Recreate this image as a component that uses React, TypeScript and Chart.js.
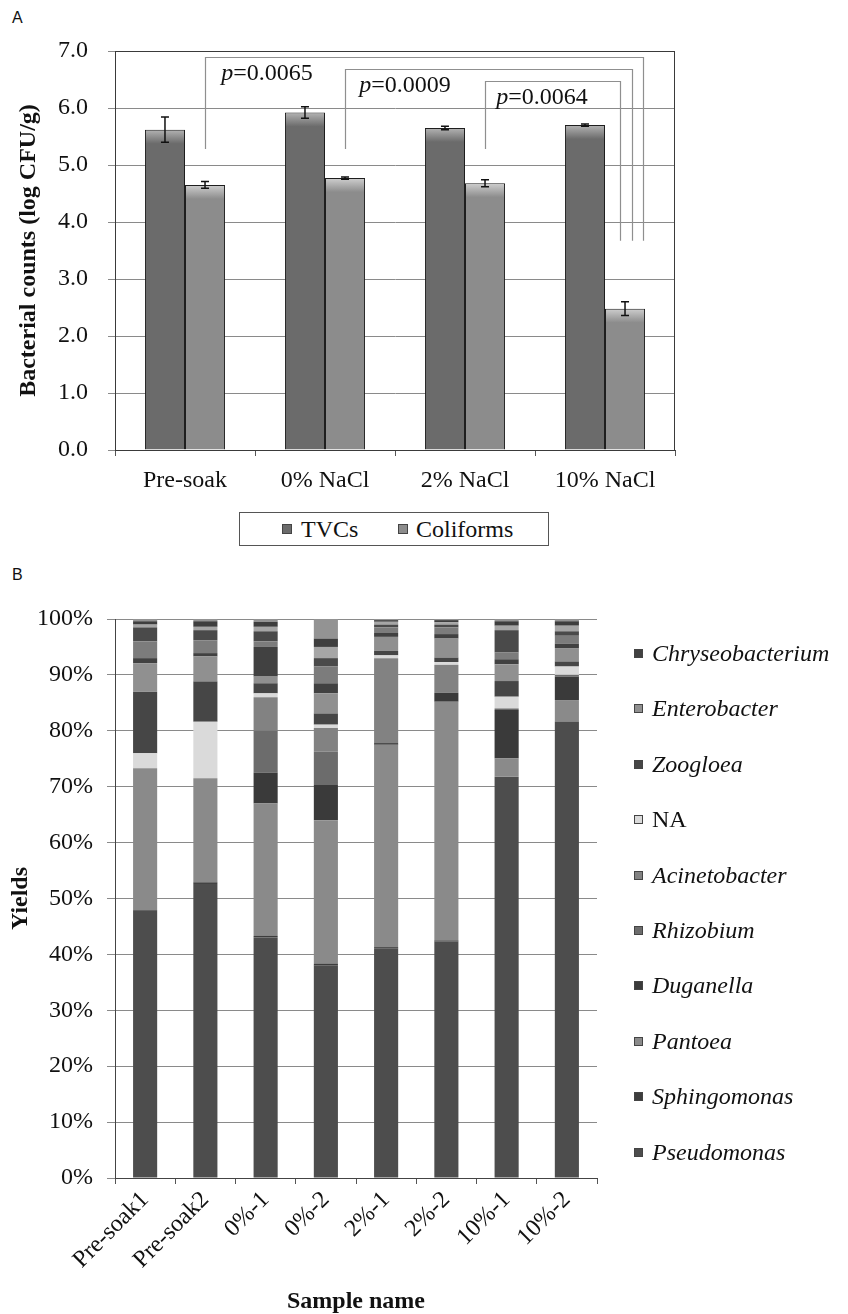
import React, { useEffect, useRef } from 'react';
import { Chart, registerables } from 'chart.js';

Chart.register(...registerables);

const SERIF = "'Liberation Serif', 'Times New Roman', Times, serif";
const SANS = "'Liberation Sans', Arial, Helvetica, sans-serif";

// ---------------- Panel A data ----------------
const treatments = ['Pre-soak', '0% NaCl', '2% NaCl', '10% NaCl'];
const tvcMeans = [5.62, 5.92, 5.65, 5.7];
const tvcErrors = [0.22, 0.1, 0.03, 0.02];
const coliformMeans = [4.65, 4.77, 4.68, 2.48];
const coliformErrors = [0.06, 0.02, 0.06, 0.12];
const countTickMax = 7;

// significance brackets (category units on x, log CFU/g on y)
const pValues = ['0.0065', '0.0009', '0.0064'];
const pBracketStart = [0.143, 1.143, 2.143];
const pBracketEnd = [3.271, 3.193, 3.107];
const pBracketTop = [6.9, 6.69, 6.48];
const pBracketStartBottom = 5.28;
const pBracketEndBottom = 3.67;
const pLabelX = [0.586, 1.571, 2.55];
const pLabelY = [6.6, 6.39, 6.18];

// ---------------- Panel B data ----------------
const sampleNames = ['Pre-soak1', 'Pre-soak2', '0%-1', '0%-2', '2%-1', '2%-2', '10%-1', '10%-2'];
const pseudomonas = [47.6, 52.6, 43.0, 38.0, 41.1, 42.3, 71.8, 81.6];
const sphingomonas = [0.3, 0.3, 0.3, 0.3, 0.2, 0.2, 0, 0];
const pantoea = [25.4, 18.6, 23.7, 25.7, 36.2, 42.7, 3.3, 3.9];
const duganella = [0, 0, 5.5, 6.3, 0.3, 1.6, 8.6, 4.2];
const rhizobium = [0, 0, 7.5, 6.0, 0, 0, 0.3, 0.3];
const acinetobacter = [0, 0, 6.0, 4.2, 15.2, 5.0, 0, 0];
const unassigned = [2.7, 10.1, 0.7, 0.6, 0.5, 0.5, 2.1, 1.5];
const zoogloea = [11.0, 7.2, 1.8, 2.0, 0.8, 0.8, 2.8, 0.9];
const enterobacter = [5.1, 4.5, 1.2, 3.6, 2.5, 3.4, 3.0, 2.4];
const chryseobacterium = [0.9, 0.6, 5.3, 1.8, 0.7, 0.8, 0.9, 0.8];
const minorGenusA = [3.0, 2.3, 1.0, 3.0, 1.0, 1.2, 1.2, 1.4];
const minorGenusB = [2.5, 1.8, 1.8, 1.5, 0.5, 0.5, 4.0, 0.8];
const minorGenusC = [0.5, 0.6, 0.8, 2.0, 0.5, 0.4, 0.8, 1.0];
const minorGenusD = [0.6, 1.0, 0.9, 1.5, 0.3, 0.4, 0.8, 0.8];
const minorGenusE = [0.4, 0.4, 0.5, 3.5, 0.2, 0.2, 0.4, 0.4];

const genusSeries = [
  { name: 'Pseudomonas', italic: true, data: pseudomonas, color: '#4d4d4d', legend: true },
  { name: 'Sphingomonas', italic: true, data: sphingomonas, color: '#3d3d3d', legend: true },
  { name: 'Pantoea', italic: true, data: pantoea, color: '#8a8a8a', legend: true },
  { name: 'Duganella', italic: true, data: duganella, color: '#3a3a3a', legend: true },
  { name: 'Rhizobium', italic: true, data: rhizobium, color: '#6c6c6c', legend: true },
  { name: 'Acinetobacter', italic: true, data: acinetobacter, color: '#828282', legend: true },
  { name: 'NA', italic: false, data: unassigned, color: '#dadada', legend: true },
  { name: 'Zoogloea', italic: true, data: zoogloea, color: '#464646', legend: true },
  { name: 'Enterobacter', italic: true, data: enterobacter, color: '#909090', legend: true },
  { name: 'Chryseobacterium', italic: true, data: chryseobacterium, color: '#414141', legend: true },
  { name: 'Other 1', italic: false, data: minorGenusA, color: '#7c7c7c', legend: false },
  { name: 'Other 2', italic: false, data: minorGenusB, color: '#4a4a4a', legend: false },
  { name: 'Other 3', italic: false, data: minorGenusC, color: '#a6a6a6', legend: false },
  { name: 'Other 4', italic: false, data: minorGenusD, color: '#3e3e3e', legend: false },
  { name: 'Other 5', italic: false, data: minorGenusE, color: '#939393', legend: false },
];

const TVC_COLOR = '#6b6b6b';
const COLI_COLOR = '#8c8c8c';

function barFill(base: string, light: string) {
  return (c: any) => {
    const chart = c.chart;
    const ys = chart.scales && chart.scales.y;
    if (!ys || !chart.chartArea || typeof c.raw !== 'number') return base;
    const top = ys.getPixelForValue(c.raw);
    const g = chart.ctx.createLinearGradient(0, top, 0, top + 14);
    g.addColorStop(0, light);
    g.addColorStop(1, base);
    return g;
  };
}

const panelAPlugin = {
  id: 'panelAExtras',
  afterDatasetsDraw(chart: any) {
    const { ctx, scales } = chart;
    const x = scales.x;
    const y = scales.y;
    ctx.save();
    // error bars
    chart.data.datasets.forEach((ds: any, di: number) => {
      const meta = chart.getDatasetMeta(di);
      meta.data.forEach((el: any, i: number) => {
        const v = ds.data[i];
        const e = ds.errors[i];
        const yt = y.getPixelForValue(v + e);
        const yb = y.getPixelForValue(v - e);
        ctx.strokeStyle = '#111';
        ctx.lineWidth = 1.5;
        ctx.beginPath();
        ctx.moveTo(el.x, yt);
        ctx.lineTo(el.x, yb);
        ctx.moveTo(el.x - 4, yt);
        ctx.lineTo(el.x + 4, yt);
        ctx.moveTo(el.x - 4, yb);
        ctx.lineTo(el.x + 4, yb);
        ctx.stroke();
      });
    });
    // brackets
    ctx.strokeStyle = '#8f8f8f';
    ctx.lineWidth = 1.2;
    for (let k = 0; k < pValues.length; k++) {
      const x1 = Math.round(x.getPixelForValue(pBracketStart[k])) + 0.5;
      const x2 = Math.round(x.getPixelForValue(pBracketEnd[k])) + 0.5;
      const yTop = Math.round(y.getPixelForValue(pBracketTop[k])) + 0.5;
      ctx.beginPath();
      ctx.moveTo(x1, y.getPixelForValue(pBracketStartBottom));
      ctx.lineTo(x1, yTop);
      ctx.lineTo(x2, yTop);
      ctx.lineTo(x2, y.getPixelForValue(pBracketEndBottom));
      ctx.stroke();
    }
    // p labels
    ctx.fillStyle = '#111';
    ctx.textBaseline = 'middle';
    ctx.textAlign = 'left';
    for (let k = 0; k < pValues.length; k++) {
      const cx = x.getPixelForValue(pLabelX[k]);
      const cy = y.getPixelForValue(pLabelY[k]);
      ctx.font = `italic 24px ${SERIF}`;
      const wp = ctx.measureText('p').width;
      ctx.font = `24px ${SERIF}`;
      const rest = '=' + pValues[k];
      const wr = ctx.measureText(rest).width;
      const sx = cx - (wp + wr) / 2;
      ctx.font = `italic 24px ${SERIF}`;
      ctx.fillText('p', sx, cy);
      ctx.font = `24px ${SERIF}`;
      ctx.fillText(rest, sx + wp, cy);
    }
    ctx.restore();
  },
  afterDraw(chart: any) {
    const { ctx, chartArea } = chart;
    ctx.save();
    ctx.strokeStyle = '#3a3a3a';
    ctx.lineWidth = 1;
    ctx.strokeRect(
      Math.round(chartArea.left) + 0.5,
      Math.round(chartArea.top) + 0.5,
      Math.round(chartArea.right - chartArea.left) - 1,
      Math.round(chartArea.bottom - chartArea.top)
    );
    ctx.restore();
  },
};

function PanelA() {
  const ref = useRef<HTMLCanvasElement>(null);
  useEffect(() => {
    if (!ref.current) return;
    const chart = new Chart(ref.current, {
      type: 'bar',
      data: {
        labels: treatments,
        datasets: [
          {
            label: 'TVCs',
            data: tvcMeans,
            errors: tvcErrors,
            backgroundColor: barFill(TVC_COLOR, '#b4b4b4'),
            borderColor: '#1e1e1e',
            borderWidth: 1,
          } as any,
          {
            label: 'Coliforms',
            data: coliformMeans,
            errors: coliformErrors,
            backgroundColor: barFill(COLI_COLOR, '#cfcfcf'),
            borderColor: '#1e1e1e',
            borderWidth: 1,
          } as any,
        ],
      },
      options: {
        responsive: false,
        animation: false,
        devicePixelRatio: 1,
        layout: { padding: { left: 0, right: 173, top: 51, bottom: 0 } },
        datasets: { bar: { barPercentage: 1, categoryPercentage: 0.572 } },
        plugins: { legend: { display: false }, tooltip: { enabled: false } },
        scales: {
          x: {
            grid: { display: true, drawOnChartArea: false, drawTicks: true, tickLength: 6, color: '#555' },
            border: { display: true, color: '#444' },
            ticks: { color: '#111', font: { family: SERIF, size: 24 }, padding: 10, maxRotation: 0 },
            afterFit: (s: any) => { s.height = 50; },
          },
          y: {
            min: 0,
            max: countTickMax,
            ticks: {
              stepSize: 1,
              color: '#111',
              font: { family: SERIF, size: 24 },
              padding: 20,
              callback: (v: any) => Number(v).toFixed(1),
            },
            grid: { color: '#8a8a8a', tickLength: 7 },
            border: { display: true, color: '#444' },
            title: {
              display: true,
              text: 'Bacterial counts (log CFU/g)',
              color: '#111',
              font: { family: SERIF, size: 24, weight: 'bold' },
              padding: { top: 14, bottom: 0 },
            },
            afterFit: (s: any) => { s.width = 115; },
          },
        },
      },
      plugins: [panelAPlugin],
    } as any);
    return () => chart.destroy();
  }, []);
  return (
    <canvas
      ref={ref}
      width={848}
      height={500}
      style={{ position: 'absolute', left: 0, top: 0, width: 848, height: 500 }}
    />
  );
}

function PanelB() {
  const ref = useRef<HTMLCanvasElement>(null);
  useEffect(() => {
    if (!ref.current) return;
    const chart = new Chart(ref.current, {
      type: 'bar',
      data: {
        labels: sampleNames,
        datasets: genusSeries.map((g) => ({
          label: g.name,
          data: g.data,
          backgroundColor: g.color,
          borderWidth: 0,
        })),
      },
      options: {
        responsive: false,
        animation: false,
        devicePixelRatio: 1,
        layout: { padding: { left: 0, right: 251, top: 29, bottom: 0 } },
        datasets: { bar: { barPercentage: 1, categoryPercentage: 0.4 } },
        plugins: { legend: { display: false }, tooltip: { enabled: false } },
        scales: {
          x: {
            stacked: true,
            grid: { display: true, drawOnChartArea: false, drawTicks: true, tickLength: 6, color: '#555' },
            border: { display: true, color: '#444' },
            ticks: {
              color: '#111',
              font: { family: SERIF, size: 24 },
              padding: 2,
              minRotation: 45,
              maxRotation: 45,
              autoSkip: false,
            },
            title: {
              display: true,
              text: 'Sample name',
              color: '#111',
              font: { family: SERIF, size: 24, weight: 'bold', lineHeight: 1 },
              padding: { top: 0, bottom: 0 },
            },
            afterFit: (s: any) => { s.height = 136; },
          },
          y: {
            stacked: true,
            min: 0,
            max: 100,
            ticks: {
              stepSize: 10,
              color: '#111',
              font: { family: SERIF, size: 24 },
              padding: 14,
              callback: (v: any) => v + '%',
            },
            grid: { color: '#8a8a8a', tickLength: 8 },
            border: { display: true, color: '#444' },
            title: {
              display: true,
              text: 'Yields',
              color: '#111',
              font: { family: SERIF, size: 24, weight: 'bold' },
              padding: { top: 6, bottom: 0 },
            },
            afterFit: (s: any) => { s.width = 115; },
          },
        },
      },
    } as any);
    return () => chart.destroy();
  }, []);
  return (
    <canvas
      ref={ref}
      width={848}
      height={724}
      style={{ position: 'absolute', left: 0, top: 590, width: 848, height: 724 }}
    />
  );
}

const textBase: React.CSSProperties = {
  position: 'absolute',
  fontFamily: SERIF,
  fontSize: 24,
  lineHeight: '24px',
  color: '#111',
  whiteSpace: 'nowrap',
};

function Swatch({ left, top, size, color }: { left: number; top: number; size: number; color: string }) {
  return (
    <div
      style={{
        position: 'absolute',
        left,
        top,
        width: size,
        height: size,
        background: color,
        boxSizing: 'border-box',
        border: '1px solid #444',
      }}
    />
  );
}

export default function App() {
  const legendB = genusSeries.filter((g) => g.legend).slice().reverse();
  return (
    <div style={{ position: 'absolute', left: 0, top: 0, width: 848, height: 1314, background: '#fff', overflow: 'hidden' }}>
      <div style={{ position: 'absolute', left: 12, top: 9, fontFamily: SANS, fontSize: 16, color: '#111' }}>A</div>
      <PanelA />
      <div
        style={{
          position: 'absolute',
          left: 239,
          top: 512,
          width: 310,
          height: 34,
          boxSizing: 'border-box',
          border: '1px solid #555',
        }}
      />
      <Swatch left={282} top={524} size={10} color={TVC_COLOR} />
      <div style={{ ...textBase, left: 301, top: 517 }}>TVCs</div>
      <Swatch left={398} top={524} size={10} color={COLI_COLOR} />
      <div style={{ ...textBase, left: 416, top: 517 }}>Coliforms</div>

      <div style={{ position: 'absolute', left: 12, top: 566, fontFamily: SANS, fontSize: 16, color: '#111' }}>B</div>
      <PanelB />
      {legendB.map((g, k) => {
        const cy = 653 + k * 55.4;
        return (
          <React.Fragment key={g.name}>
            <Swatch left={634} top={Math.round(cy - 4)} size={9} color={g.color} />
            <div style={{ ...textBase, left: 652, top: Math.round(cy - 12), fontStyle: g.italic ? 'italic' : 'normal' }}>
              {g.name}
            </div>
          </React.Fragment>
        );
      })}
    </div>
  );
}
